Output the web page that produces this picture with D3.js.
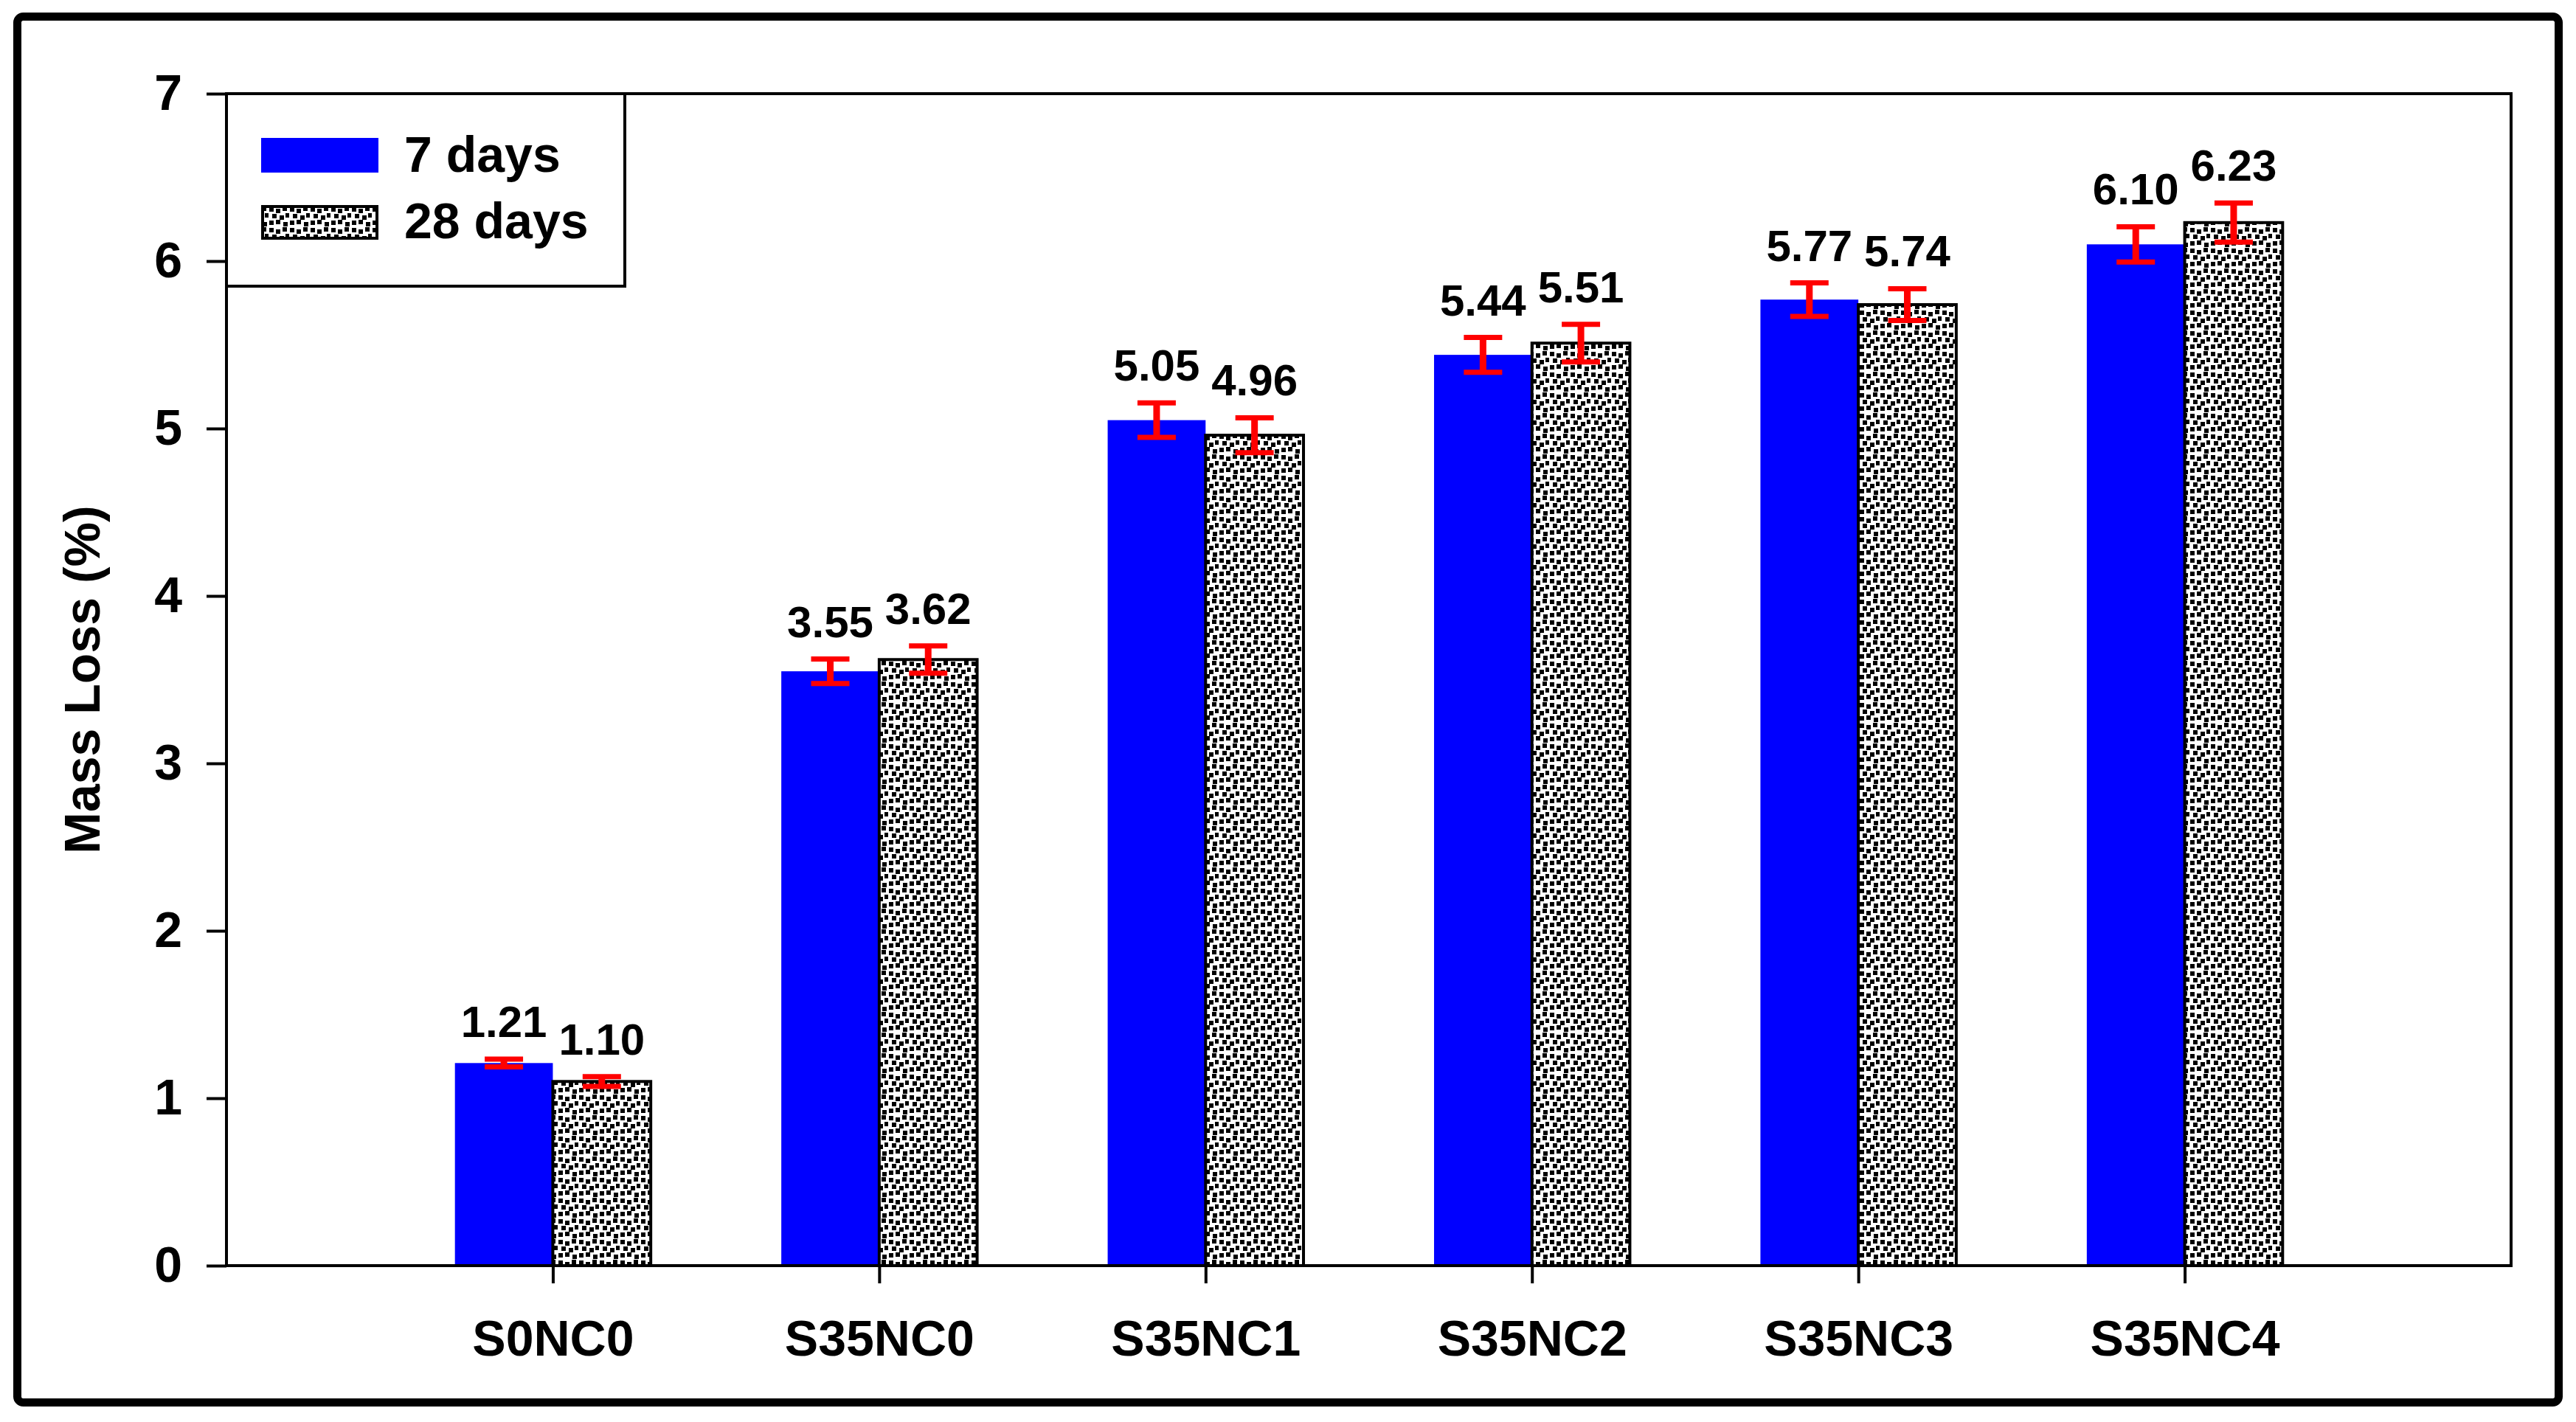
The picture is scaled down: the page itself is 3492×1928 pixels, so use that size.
<!DOCTYPE html>
<html>
<head>
<meta charset="utf-8">
<script src="https://cdn.jsdelivr.net/npm/d3@7"></script>
<style>
  html, body { margin: 0; padding: 0; background: #fff; }
  svg { display: block; }
  text { font-family: "Liberation Sans", Arial, sans-serif; font-weight: bold; fill: #000; }
</style>
</head>
<body>
<svg id="chart" width="3492" height="1928"></svg>
<script>
// ---- data ----
const categories = ["S0NC0", "S35NC0", "S35NC1", "S35NC2", "S35NC3", "S35NC4"];
const seriesNames = ["7 days", "28 days"];
const values7 = [1.21, 3.55, 5.05, 5.44, 5.77, 6.10];
const values28 = [1.10, 3.62, 4.96, 5.51, 5.74, 6.23];
const err7 = [0.023, 0.073, 0.103, 0.104, 0.100, 0.105];
const err28 = [0.029, 0.082, 0.104, 0.112, 0.095, 0.117];
const yTicks = [0, 1, 2, 3, 4, 5, 6, 7];
const yTitle = "Mass Loss (%)";

// ---- layout ----
const W = 3492, H = 1928;
const plot = { left: 307, right: 3404, top: 127, bottom: 1716 };
const svg = d3.select("#chart");

// pattern for 28 days
const defs = svg.append("defs");
const pat = defs.append("pattern")
  .attr("id", "dots").attr("patternUnits", "userSpaceOnUse")
  .attr("width", 28).attr("height", 28);
pat.append("rect").attr("width", 28).attr("height", 28).attr("fill", "#fff");
const dotPos = [[1,1],[10,3],[19,0],[5,10],[15,12],[23,9],[1,19],[10,18],[20,21]];
dotPos.forEach(p => pat.append("rect").attr("x", p[0]).attr("y", p[1])
  .attr("width", 6).attr("height", 6).attr("fill", "#000"));

// outer frame
svg.append("rect").attr("x", 23.5).attr("y", 22.5).attr("width", 3445).attr("height", 1879)
  .attr("rx", 8).attr("fill", "none").attr("stroke", "#000").attr("stroke-width", 11);

// scales
const x = d3.scaleLinear().domain([0, categories.length + 1]).range([plot.left, plot.right]);
const y = d3.scaleLinear().domain([0, 7]).range([plot.bottom, plot.top]);
const bw = 0.3; // bar width in x units

// bars
const g = svg.append("g");
const rows = categories.map((c, i) => ({ c, i, v7: values7[i], v28: values28[i], e7: err7[i], e28: err28[i] }));

g.selectAll("rect.b7").data(rows).join("rect").attr("class", "b7")
  .attr("x", d => x(d.i + 1 - bw)).attr("width", d => x(d.i + 1) - x(d.i + 1 - bw))
  .attr("y", d => y(d.v7)).attr("height", d => y(0) - y(d.v7))
  .attr("fill", "#0000ff");

g.selectAll("rect.b28").data(rows).join("rect").attr("class", "b28")
  .attr("x", d => x(d.i + 1)).attr("width", d => x(d.i + 1 + bw) - x(d.i + 1))
  .attr("y", d => y(d.v28)).attr("height", d => y(0) - y(d.v28))
  .attr("fill", "url(#dots)").attr("stroke", "#000").attr("stroke-width", 4);

// plot frame
svg.append("rect").attr("x", plot.left).attr("y", plot.top)
  .attr("width", plot.right - plot.left).attr("height", plot.bottom - plot.top)
  .attr("fill", "none").attr("stroke", "#000").attr("stroke-width", 4);

// axes
const yAxis = d3.axisLeft(y).tickValues(yTicks).tickSize(27).tickPadding(33).tickFormat(d3.format("d"));
const ya = svg.append("g").attr("transform", `translate(${plot.left},0)`).call(yAxis);
ya.select(".domain").remove();
ya.selectAll(".tick line").attr("stroke", "#000").attr("stroke-width", 4);
ya.selectAll(".tick text").attr("font-size", 68).attr("font-family", "Liberation Sans, Arial, sans-serif").attr("font-weight", "bold").attr("fill", "#000");

const xAxis = d3.axisBottom(x).tickValues(categories.map((c, i) => i + 1))
  .tickFormat(d => categories[d - 1]).tickSize(24).tickPadding(50);
const xa = svg.append("g").attr("transform", `translate(0,${plot.bottom})`).call(xAxis);
xa.select(".domain").remove();
xa.selectAll(".tick line").attr("stroke", "#000").attr("stroke-width", 4);
xa.selectAll(".tick text").attr("font-size", 68).attr("font-family", "Liberation Sans, Arial, sans-serif").attr("font-weight", "bold").attr("fill", "#000");

// error bars
const capW = 52;
function errBars(cls, cxFn, vKey, eKey) {
  const eg = svg.append("g").attr("class", cls).attr("stroke", "#ff0000");
  rows.forEach(d => {
    const cx = cxFn(d), v = d[vKey], e = d[eKey];
    eg.append("line").attr("x1", cx).attr("x2", cx).attr("y1", y(v + e)).attr("y2", y(v - e)).attr("stroke-width", 9);
    eg.append("line").attr("x1", cx - capW / 2).attr("x2", cx + capW / 2).attr("y1", y(v + e)).attr("y2", y(v + e)).attr("stroke-width", 7);
    eg.append("line").attr("x1", cx - capW / 2).attr("x2", cx + capW / 2).attr("y1", y(v - e)).attr("y2", y(v - e)).attr("stroke-width", 7);
  });
}
errBars("e7", d => x(d.i + 1 - bw / 2), "v7", "e7");
errBars("e28", d => x(d.i + 1 + bw / 2), "v28", "e28");

// value labels
const fmt = d3.format(".2f");
svg.append("g").selectAll("text").data(rows).join("text")
  .attr("x", d => x(d.i + 1 - bw / 2)).attr("y", d => y(d.v7 + d.e7) - 30)
  .attr("text-anchor", "middle").attr("font-size", 60).text(d => fmt(d.v7));
svg.append("g").selectAll("text").data(rows).join("text")
  .attr("x", d => x(d.i + 1 + bw / 2)).attr("y", d => y(d.v28 + d.e28) - 30)
  .attr("text-anchor", "middle").attr("font-size", 60).text(d => fmt(d.v28));

// y title
svg.append("text").attr("transform", `translate(135,${(plot.top + plot.bottom) / 2}) rotate(-90)`)
  .attr("text-anchor", "middle").attr("font-size", 68).text(yTitle);

// legend
const lg = svg.append("g");
lg.append("rect").attr("x", plot.left).attr("y", plot.top).attr("width", 540).attr("height", 261)
  .attr("fill", "#fff").attr("stroke", "#000").attr("stroke-width", 4);
lg.append("rect").attr("x", 354).attr("y", 187).attr("width", 159).attr("height", 47).attr("fill", "#0000ff");
lg.append("rect").attr("x", 356).attr("y", 280).attr("width", 155).attr("height", 43)
  .attr("fill", "url(#dots)").attr("stroke", "#000").attr("stroke-width", 4);
lg.append("text").attr("x", 548).attr("y", 233).attr("font-size", 68).text(seriesNames[0]);
lg.append("text").attr("x", 548).attr("y", 323).attr("font-size", 68).text(seriesNames[1]);
</script>
</body>
</html>
